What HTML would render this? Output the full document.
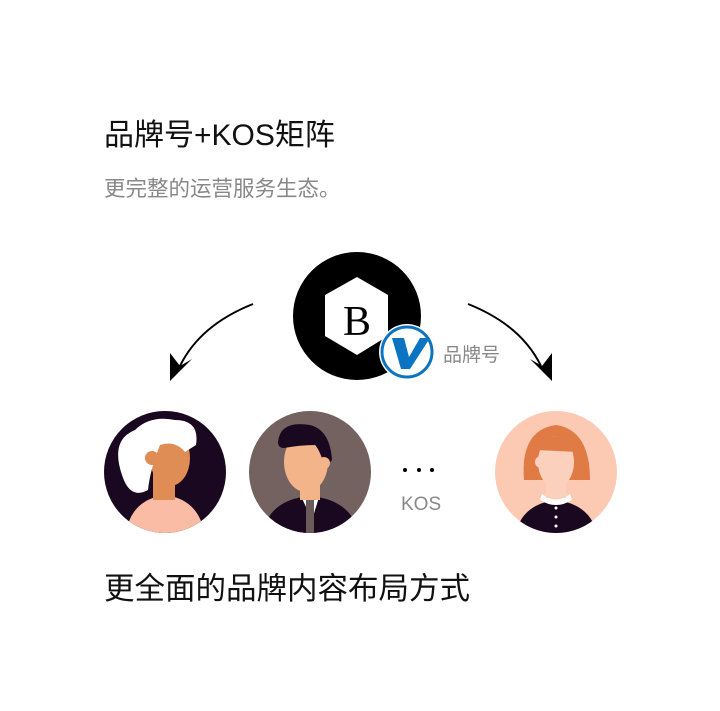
<!DOCTYPE html>
<html><head><meta charset="utf-8"><style>
body{margin:0;width:720px;height:711px;background:#fff;overflow:hidden;position:relative;font-family:"Liberation Sans","Noto Sans CJK SC",sans-serif}
.t{position:absolute;white-space:nowrap}
</style></head><body>
<div class="t" style="left:104px;top:110px;font-size:30px;color:#111">品牌号+KOS矩阵</div>
<div class="t" style="left:104px;top:172px;font-size:21.5px;color:#888">更完整的运营服务生态。</div>
<div class="t" style="left:104px;top:564px;font-size:30.5px;color:#111">更全面的品牌内容布局方式</div>
<svg width="720" height="711" style="position:absolute;left:0;top:0">
<defs>
<clipPath id="c1"><circle cx="165" cy="472" r="61"/></clipPath>
<clipPath id="c2"><circle cx="310" cy="472" r="61"/></clipPath>
<clipPath id="c3"><circle cx="556" cy="472" r="61"/></clipPath>
</defs>
<path d="M253 304 Q200 325 180 366" stroke="#000" stroke-width="2" fill="none"/>
<polygon points="170,381 170,353 180,366 192,359" fill="#000"/>
<path d="M468 304 Q521 325 541 366" stroke="#000" stroke-width="2" fill="none"/>
<polygon points="552,381 552,353 542,366 530,359" fill="#000"/>
<circle cx="357" cy="316" r="64" fill="#000"/>
<polygon points="357,277 388,295 388,336 357,355 325,336 325,295" fill="#fff"/>
<text x="357" y="335" text-anchor="middle" font-family="Liberation Serif,serif" font-size="42" fill="#000">B</text>
<circle cx="407" cy="352" r="28" fill="#fff"/>
<circle cx="407" cy="352" r="25" fill="#fff" stroke="#0a73c2" stroke-width="3"/>
<path d="M392 338 L404 338 L409 357 L420 338 L430 338 L410 369 L401 369 Z" fill="#0a73c2"/>
<text x="443" y="361" font-size="19" fill="#888">品牌号</text>
<g clip-path="url(#c1)">
<rect x="100" y="400" width="130" height="140" fill="#1a0820"/>
<path d="M125 540 Q128 500 165 495 Q202 500 205 540Z" fill="#fbbca5"/>
<rect x="153" y="465" width="22" height="35" fill="#e08c55"/>
<ellipse cx="170" cy="458" rx="20" ry="28" fill="#e08c55"/>
<path d="M122 475 Q110 440 135 430 Q150 415 175 420 Q200 420 196 445 L185 452 Q175 440 160 445 Q150 470 148 490 Q130 500 122 475Z" fill="#fff"/>
<circle cx="152" cy="458" r="7" fill="#e08c55"/>
</g>
<g clip-path="url(#c2)">
<rect x="240" y="400" width="140" height="140" fill="#736260"/>
<path d="M262 540 Q265 500 310 496 Q355 500 360 540Z" fill="#1a0820"/>
<path d="M300 494 L320 494 L312 520Z" fill="#fff"/>
<rect x="306" y="500" width="8" height="40" fill="#6a5a58"/>
<rect x="300" y="470" width="20" height="30" fill="#f3b48a"/>
<ellipse cx="306" cy="462" rx="22" ry="30" fill="#f3b48a"/>
<path d="M278 442 Q280 420 310 425 Q330 430 332 460 L325 468 Q320 450 315 445 Q300 445 284 448 Q278 448 278 442Z" fill="#1a0820"/>
<circle cx="324" cy="463" r="6" fill="#f3b48a"/>
</g>
<circle cx="405" cy="470" r="2" fill="#000"/><circle cx="419" cy="470" r="2" fill="#000"/><circle cx="432" cy="470" r="2" fill="#000"/>
<text x="401" y="510" font-size="19" fill="#888">KOS</text>
<g clip-path="url(#c3)">
<rect x="490" y="400" width="130" height="140" fill="#fccab3"/>
<path d="M515 540 Q518 505 556 500 Q594 505 598 540Z" fill="#1a0820"/>
<path d="M542 494 Q556 505 570 494 L572 500 Q556 510 540 500Z" fill="#fff"/>
<circle cx="556" cy="508" r="1.5" fill="#fff"/><circle cx="556" cy="517" r="1.5" fill="#fff"/><circle cx="556" cy="526" r="1.5" fill="#fff"/>
<path d="M524 480 Q520 430 556 425 Q590 430 590 480Z" fill="#e07b45"/>
<rect x="546" y="470" width="20" height="28" fill="#fbd0bc"/>
<ellipse cx="556" cy="462" rx="18" ry="26" fill="#fbd0bc"/>
<path d="M536 450 Q545 430 575 438 Q580 448 578 452Z" fill="#e07b45"/>
<circle cx="541" cy="462" r="6" fill="#fbd0bc"/>
</g>
</svg>
</body></html>
